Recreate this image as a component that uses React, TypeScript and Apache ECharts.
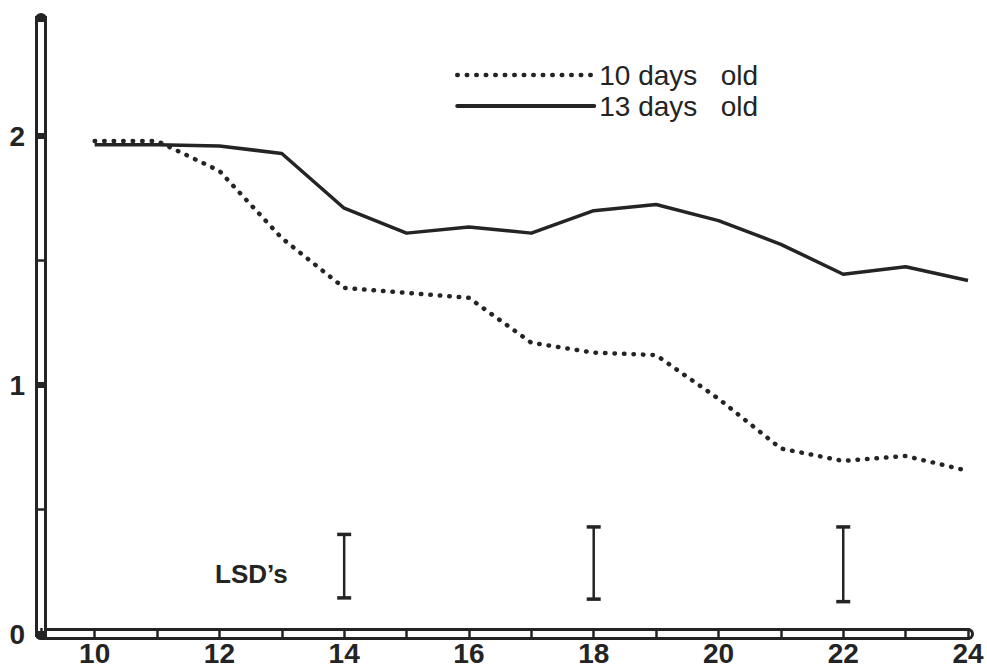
import React, { useEffect, useRef } from "react";
import * as echarts from "echarts";

const days: number[] = [10, 11, 12, 13, 14, 15, 16, 17, 18, 19, 20, 21, 22, 23, 24];
const tenDaysOld: number[] = [1.98, 1.98, 1.86, 1.59, 1.39, 1.37, 1.35, 1.17, 1.13, 1.12, 0.945, 0.745, 0.695, 0.715, 0.655];
const thirteenDaysOld: number[] = [1.965, 1.965, 1.96, 1.93, 1.71, 1.61, 1.635, 1.61, 1.70, 1.725, 1.66, 1.565, 1.445, 1.475, 1.42];
const lsdX: number[] = [14, 18, 22];
const lsdLow: number[] = [0.145, 0.14, 0.13];
const lsdHigh: number[] = [0.4, 0.43, 0.43];
const seriesNames: string[] = ["10 days   old", "13 days   old"];
const lsdLabel = "LSD\u2019s";

const INK = "#242424";
const FONT = '"Liberation Sans", Arial, Helvetica, sans-serif';
const DOTS = [0.5, 9];

export default function App() {
  const ref = useRef<HTMLDivElement>(null);
  useEffect(() => {
    if (!ref.current) return;
    const chart = echarts.init(ref.current, null, { renderer: "svg" });

    const xBase = {
      type: "value" as const,
      min: 9.14,
      max: 24,
      position: "bottom" as const,
      splitLine: { show: false },
      axisTick: { show: false },
      axisLabel: { show: false },
    };
    const yBase = {
      type: "value" as const,
      min: 0,
      max: 2.47,
      position: "left" as const,
      splitLine: { show: false },
      axisTick: { show: false },
      axisLabel: { show: false },
    };

    const option: any = {
      animation: false,
      backgroundColor: "#ffffff",
      grid: { left: 41, right: 19, top: 19, bottom: 36, containLabel: false },
      xAxis: [
        { ...xBase, z: 1, axisLine: { show: true, onZero: false, lineStyle: { color: INK, width: 12 } } },
        { ...xBase, z: 2, axisLine: { show: true, onZero: false, lineStyle: { color: "#ffffff", width: 6 } } },
        {
          ...xBase,
          z: 3,
          offset: 6,
          splitNumber: 15,
          minInterval: 1,
          maxInterval: 1,
          axisLine: { show: false, onZero: false },
          axisTick: { show: true, inside: true, length: 12, lineStyle: { color: INK, width: 2.5 } },
          axisLabel: {
            show: true,
            margin: -1,
            color: INK,
            fontSize: 28,
            fontWeight: "bold",
            fontFamily: FONT,
            formatter: (v: number) => (Number.isInteger(v) && v % 2 === 0 ? String(v) : ""),
          },
        },
      ],
      yAxis: [
        { ...yBase, z: 1, axisLine: { show: true, onZero: false, lineStyle: { color: INK, width: 12, cap: "round" } } },
        { ...yBase, z: 2, axisLine: { show: true, onZero: false, lineStyle: { color: "#ffffff", width: 6 } } },
        {
          ...yBase,
          z: 3,
          offset: 6,
          interval: 0.5,
          axisLine: { show: false, onZero: false },
          axisTick: { show: true, inside: true, length: 12, lineStyle: { color: INK, width: 2.5 } },
        },
        {
          ...yBase,
          z: 3,
          offset: 6,
          interval: 1,
          axisLine: { show: false, onZero: false },
          axisTick: { show: true, inside: true, length: 12, lineStyle: { color: INK, width: 6 } },
          axisLabel: {
            show: true,
            margin: 10,
            color: INK,
            fontSize: 28,
            fontWeight: "bold",
            fontFamily: FONT,
            formatter: (v: number) => (Number.isInteger(v) ? String(v) : ""),
          },
        },
      ],
      legend: {
        orient: "vertical",
        left: 450,
        top: 56,
        itemWidth: 137,
        itemHeight: 14,
        itemGap: 3,
        textStyle: { color: INK, fontSize: 28, fontFamily: FONT },
        itemStyle: { opacity: 0 },
        data: [
          { name: seriesNames[0], lineStyle: { color: INK, width: 4.5, type: DOTS, cap: "round" } },
          { name: seriesNames[1], lineStyle: { color: INK, width: 4, type: "solid", cap: "round" } },
        ],
      },
      graphic: [
        {
          type: "text",
          left: 215,
          top: 561,
          style: { text: lsdLabel, fill: INK, font: `bold 26px ${FONT}` },
        },
      ],
      series: [
        {
          name: seriesNames[1],
          type: "line",
          xAxisIndex: 0,
          yAxisIndex: 0,
          symbol: "none",
          data: days.map((d, i) => [d, thirteenDaysOld[i]]),
          lineStyle: { color: INK, width: 3.5, join: "round" },
          itemStyle: { color: INK },
          z: 4,
        },
        {
          name: seriesNames[0],
          type: "line",
          xAxisIndex: 0,
          yAxisIndex: 0,
          symbol: "none",
          data: days.map((d, i) => [d, tenDaysOld[i]]),
          lineStyle: { color: INK, width: 4.5, type: DOTS, cap: "round" },
          itemStyle: { color: INK },
          z: 5,
        },
        {
          name: "LSD",
          type: "custom",
          xAxisIndex: 0,
          yAxisIndex: 0,
          data: lsdX.map((x, i) => [x, lsdLow[i], lsdHigh[i]]),
          renderItem: (params: any, api: any) => {
            const x = api.value(0);
            const top = api.coord([x, api.value(2)]);
            const bot = api.coord([x, api.value(1)]);
            const hw = 7;
            const st = { stroke: INK, lineWidth: 2.5 };
            const cap = { stroke: INK, lineWidth: 3.5 };
            return {
              type: "group",
              children: [
                { type: "line", shape: { x1: top[0], y1: top[1], x2: bot[0], y2: bot[1] }, style: st },
                { type: "line", shape: { x1: top[0] - hw, y1: top[1], x2: top[0] + hw, y2: top[1] }, style: cap },
                { type: "line", shape: { x1: bot[0] - hw, y1: bot[1], x2: bot[0] + hw, y2: bot[1] }, style: cap },
              ],
            };
          },
          z: 4,
        },
      ],
    };
    chart.setOption(option);
    return () => chart.dispose();
  }, []);
  return (
    <div
      ref={ref}
      style={{ position: "fixed", left: 0, top: 0, width: 987, height: 670, background: "#fff" }}
    />
  );
}
